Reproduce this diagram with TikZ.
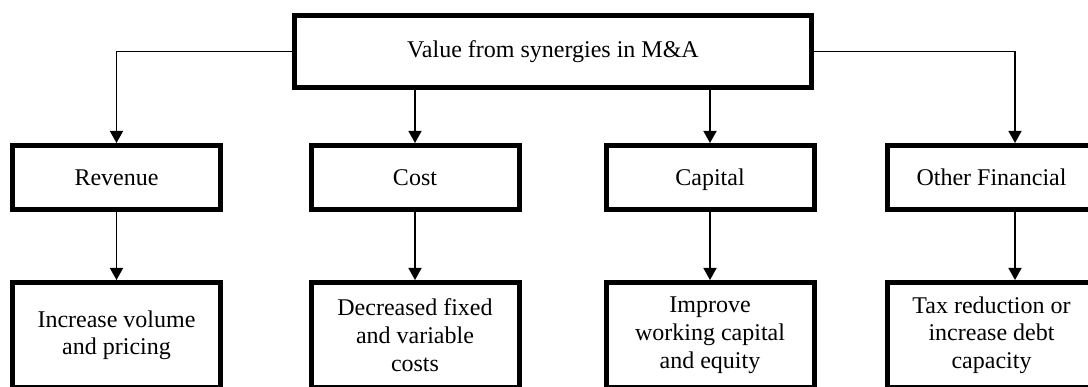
\documentclass[tikz,border=0pt]{standalone}
\usepackage{fontspec}
\setmainfont{Liberation Serif}
\usetikzlibrary{arrows.meta,calc}
\begin{document}
\begin{tikzpicture}[x=1pt,y=-1pt,
  box/.style={draw=black,line width=5pt,fill=white,align=center,
    font=\fontsize{24}{27.6}\selectfont,inner sep=0pt,
    minimum width=208pt},
  midbox/.style={box,minimum height=64pt,text height=19pt,text depth=2pt},
  lowbox/.style={box,minimum height=105.5pt},
  conn/.style={line width=1.5pt,-{Triangle[width=13pt,length=12pt]}}]
\useasboundingbox (0,0) rectangle (1088,387);
\clip (0,0) rectangle (1088,387);
\node[box,minimum width=517pt,minimum height=72.5pt] (top) at (553,51.75) {Value from synergies in M\&A};
\node[midbox] (rev) at (116.5,177.5) {Revenue};
\node[midbox] (cost) at (415,177.5) {Cost};
\node[midbox] (cap) at (710,177.5) {Capital};
\node[midbox] (oth) at (991.5,177.5) {Other Financial};
\node[lowbox] (b1) at (116.5,335.25) {Increase volume\\and pricing};
\node[lowbox] (b2) at (415,335.25) {Decreased fixed\\and variable\\costs};
\node[lowbox] (b3) at (710,335.25) {Improve\\working capital\\and equity};
\node[lowbox] (b4) at (991.5,335.25) {Tax reduction or\\increase debt\\capacity};
\coordinate (c4) at (1015,0);
\draw[conn] (top.west) -| (rev.north);
\draw[conn] (cost.north |- top.south) -- (cost.north);
\draw[conn] (cap.north |- top.south) -- (cap.north);
\draw[conn] (top.east) -| (c4 |- oth.north);
\draw[conn] (rev.south) -- (b1.north);
\draw[conn] (cost.south) -- (b2.north);
\draw[conn] (cap.south) -- (b3.north);
\draw[conn] (c4 |- oth.south) -- (c4 |- b4.north);
\end{tikzpicture}
\end{document}
